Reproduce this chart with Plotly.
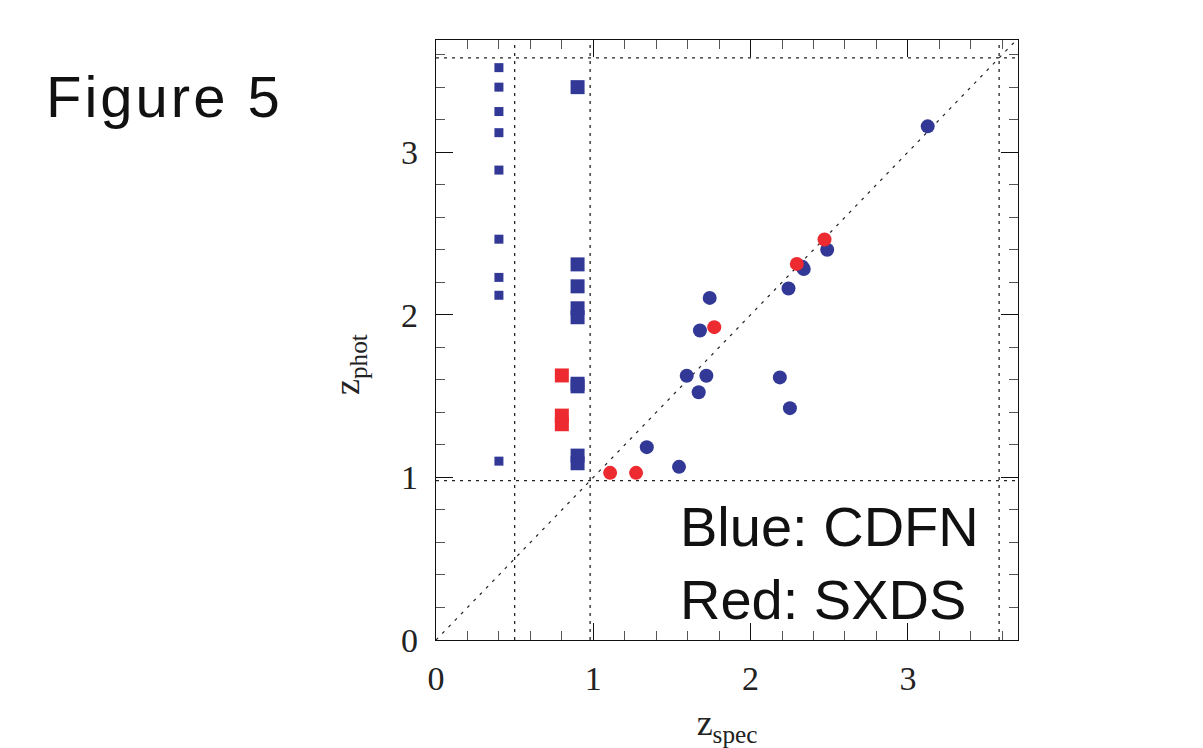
import plotly.graph_objects as go

# CDFN objects placed at nominal z_spec (no secure spectroscopic redshift)
cdfn_small_zspec = [0.40, 0.40, 0.40, 0.40, 0.40, 0.40, 0.40, 0.40, 0.40]
cdfn_small_zphot = [3.52, 3.40, 3.25, 3.12, 2.89, 2.465, 2.23, 2.12, 1.10]

cdfn_big_zspec = [0.90, 0.90, 0.90, 0.90, 0.90, 0.90, 0.90, 0.90, 0.90]
cdfn_big_zphot = [3.40, 2.31, 2.175, 2.04, 1.985, 1.576, 1.56, 1.134, 1.087]

sxds_sq_zspec = [0.80, 0.80, 0.80]
sxds_sq_zphot = [1.627, 1.38, 1.327]

# Objects with spectroscopic redshifts
cdfn_zspec = [3.126, 2.487, 2.328, 2.338, 2.241, 1.740, 1.678, 1.594, 1.719,
              1.670, 2.186, 2.250, 1.340, 1.545]
cdfn_zphot = [3.159, 2.400, 2.296, 2.282, 2.162, 2.104, 1.903, 1.625, 1.625,
              1.524, 1.615, 1.426, 1.186, 1.065]

sxds_zspec = [2.470, 2.294, 1.769, 1.107, 1.272]
sxds_zphot = [2.463, 2.313, 1.924, 1.028, 1.028]

# Reference lines
vlines = [0.50, 0.98, 3.58]
hlines = [0.98, 3.58]
x_range = [0, 3.70]
y_range = [0, 3.69]
tick_vals = [0, 1, 2, 3]
tick_text = ["0", "1", "2", "3"]

BLUE = "#323896"
RED = "#ec2a30"

fig = go.Figure()

fig.add_trace(go.Scatter(x=cdfn_small_zspec, y=cdfn_small_zphot, mode="markers",
                         marker=dict(symbol="square", size=9, color=BLUE, line=dict(width=0))))
fig.add_trace(go.Scatter(x=cdfn_big_zspec, y=cdfn_big_zphot, mode="markers",
                         marker=dict(symbol="square", size=14, color=BLUE, line=dict(width=0))))
fig.add_trace(go.Scatter(x=sxds_sq_zspec, y=sxds_sq_zphot, mode="markers",
                         marker=dict(symbol="square", size=14, color=RED, line=dict(width=0))))
fig.add_trace(go.Scatter(x=cdfn_zspec, y=cdfn_zphot, mode="markers",
                         marker=dict(symbol="circle", size=14, color=BLUE, line=dict(width=0))))
fig.add_trace(go.Scatter(x=sxds_zspec, y=sxds_zphot, mode="markers",
                         marker=dict(symbol="circle", size=14, color=RED, line=dict(width=0))))

dotted = dict(color="#222", width=1.3, dash="3px,5px")
for xv in vlines:
    fig.add_shape(type="line", xref="x", yref="paper", x0=xv, x1=xv, y0=0, y1=1,
                  line=dotted, layer="below")
for yv in hlines:
    fig.add_shape(type="line", xref="paper", yref="y", x0=0, x1=1, y0=yv, y1=yv,
                  line=dotted, layer="below")
# one-to-one relation
fig.add_shape(type="line", xref="x", yref="y", x0=0, y0=0, x1=x_range[1], y1=x_range[1],
              line=dict(color="#222", width=1.2, dash="3px,6px"), layer="below")

axis_common = dict(
    showgrid=False, zeroline=False,
    showline=True, linecolor="#111", linewidth=1.3, mirror="allticks",
    ticks="inside", ticklen=17, tickwidth=1.3, tickcolor="#111",
    tickvals=tick_vals, ticktext=tick_text,
    minor=dict(dtick=0.2, tick0=0, ticks="inside", ticklen=9, tickwidth=1.3, tickcolor="#555"),
    tickfont=dict(family="Liberation Serif", size=34, color="#222"),
)

fig.update_layout(
    width=1203, height=748,
    margin=dict(l=436, r=185, t=40, b=108),
    paper_bgcolor="white", plot_bgcolor="white",
    showlegend=False,
    xaxis=dict(range=x_range, ticklabelstandoff=8,
               title=dict(text="z<sub>spec</sub>", standoff=14,
                          font=dict(family="Liberation Serif", size=36, color="#222")),
               **axis_common),
    yaxis=dict(range=y_range, ticklabelstandoff=10, **axis_common),
    annotations=[
        dict(text="z<sub>phot</sub>", xref="paper", yref="paper",
             x=-0.1495, y=0.46, xanchor="center", yanchor="middle", textangle=-90,
             showarrow=False,
             font=dict(family="Liberation Serif", size=36, color="#222")),
        dict(text="<span style='letter-spacing:3px'>Figure 5</span>", xref="paper", yref="paper",
             x=-0.673, y=0.905, xanchor="left", yanchor="middle", showarrow=False,
             font=dict(family="Liberation Sans", size=58, color="#111")),
        dict(text="Blue: CDFN<br>Red: SXDS", xref="paper", yref="paper",
             x=0.416, y=0.128, xanchor="left", yanchor="middle", align="left", showarrow=False,
             font=dict(family="Liberation Sans", size=56, color="#111")),
    ],
)

fig.write_html("out.html")
